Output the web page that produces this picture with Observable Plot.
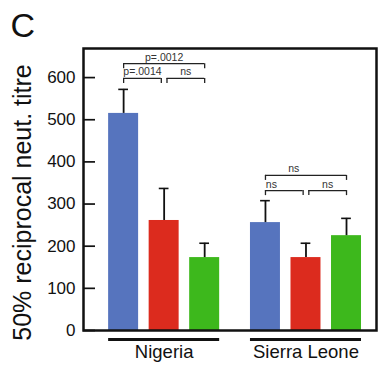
<!DOCTYPE html>
<html><head><meta charset="utf-8">
<script src="https://cdn.jsdelivr.net/npm/d3@7"></script>
<script src="https://cdn.jsdelivr.net/npm/@observablehq/plot@0.6"></script>
<style>html,body{margin:0;padding:0;background:#fff}</style>
</head><body><div id="chart"></div>
<script>
// ---- data ----
const countries = ["Nigeria", "Sierra Leone"];
const series = ["Series 1", "Series 2", "Series 3"];
const seriesColors = ["#5674be", "#dc2b1e", "#3db81c"];
const nigeriaMeans = [515, 261, 173];
const nigeriaErrors = [57, 76, 34];
const sierraLeoneMeans = [256, 173, 225];
const sierraLeoneErrors = [52, 34, 41];
const yTicks = [0, 100, 200, 300, 400, 500, 600];
// significance comparisons: country index, from series, to series, bracket height, label
const compCountry = [0, 0, 0, 1, 1, 1];
const compFrom    = [0, 0, 1, 0, 0, 1];
const compTo      = [2, 1, 2, 2, 1, 2];
const compHeight  = [633, 598, 598, 368, 332, 332];
const compLabel   = ["p=.0012", "p=.0014", "ns", "ns", "ns", "ns"];
const yLabel = "50% reciprocal neut. titre";
const panelLabel = "C";

// ---- build tables ----
const groupStep = 3.5, half = 0.37, cap = 0.12, trim = 0.07, drop = 12;
const labelShift = [0, 0, 0, -0.3, -0.32, 0];
const means = [nigeriaMeans, sierraLeoneMeans];
const errs = [nigeriaErrors, sierraLeoneErrors];
const bars = [];
countries.forEach((c, ci) => series.forEach((s, si) => {
  const pos = ci * groupStep + si;
  bars.push({country: c, series: s, pos, mean: means[ci][si], top: means[ci][si] + errs[ci][si]});
}));
const comps = compLabel.map((label, i) => {
  const base = compCountry[i] * groupStep;
  const isInner = compTo[i] - compFrom[i] === 1;
  let a = base + compFrom[i], b = base + compTo[i];
  if (isInner) { if (compFrom[i] === 1) a += trim; else b -= trim; }
  return {label, a, b, h: compHeight[i], mid: (a + b) / 2 + labelShift[i]};
});
const compTicks = comps.flatMap(d => [{x: d.a, h: d.h}, {x: d.b, h: d.h}]);
const groups = countries.map((c, ci) => ({country: c, a: ci * groupStep - half, b: ci * groupStep + series.length - 1 + half, mid: ci * groupStep + (series.length - 1) / 2}));

const font = "'Liberation Sans', Arial, Helvetica, sans-serif";
const chart = Plot.plot({
  width: 378, height: 366,
  marginLeft: 83, marginRight: 2, marginTop: 48, marginBottom: 36,
  style: {fontFamily: font, background: "#fff", color: "#111"},
  x: {domain: [-0.99, 6.24], axis: null},
  y: {domain: [0, 669], axis: null},
  color: {domain: series, range: seriesColors},
  marks: [
    Plot.rect(bars, {x1: d => d.pos - half, x2: d => d.pos + half, y1: 0, y2: "mean", fill: "series"}),
    Plot.ruleX(bars, {x: "pos", y1: "mean", y2: "top", stroke: "#111", strokeWidth: 1.8}),
    Plot.ruleY(bars, {y: "top", x1: d => d.pos - cap, x2: d => d.pos + cap, stroke: "#111", strokeWidth: 1.6}),
    Plot.ruleY(comps, {y: "h", x1: "a", x2: "b", stroke: "#222", strokeWidth: 1.3}),
    Plot.ruleX(compTicks, {x: "x", y1: "h", y2: d => d.h - drop, stroke: "#222", strokeWidth: 1.3}),
    Plot.text(comps, {x: "mid", y: "h", text: "label", fontSize: 10.5, fill: "#333", lineAnchor: "bottom", dy: -3}),
    Plot.frame({stroke: "#111", strokeWidth: 2.5}),
    Plot.axisY(yTicks, {anchor: "left", tickSize: 12, dx: 12, text: null, strokeWidth: 1.7, stroke: "#111"}),
    Plot.axisY(yTicks, {anchor: "left", tickSize: 0, tickPadding: 8, fontSize: 17, fill: "#111", label: null}),
    Plot.ruleY(groups, {y: 0, x1: "a", x2: "b", dy: 9, stroke: "#111", strokeWidth: 3}),
    Plot.text(groups, {x: "mid", y: 0, text: "country", fontSize: 18.5, fill: "#111", lineAnchor: "top", dy: 14}),
    Plot.text([yLabel], {frameAnchor: "left", textAnchor: "middle", lineAnchor: "middle", rotate: -90, dx: -61, dy: 13, fontSize: 25, fill: "#111"}),
    Plot.text([panelLabel], {frameAnchor: "top-left", textAnchor: "start", lineAnchor: "middle", dx: -73, dy: -22, fontSize: 34, fill: "#111"})
  ]
});
document.getElementById("chart").appendChild(chart);
</script>
</body></html>
